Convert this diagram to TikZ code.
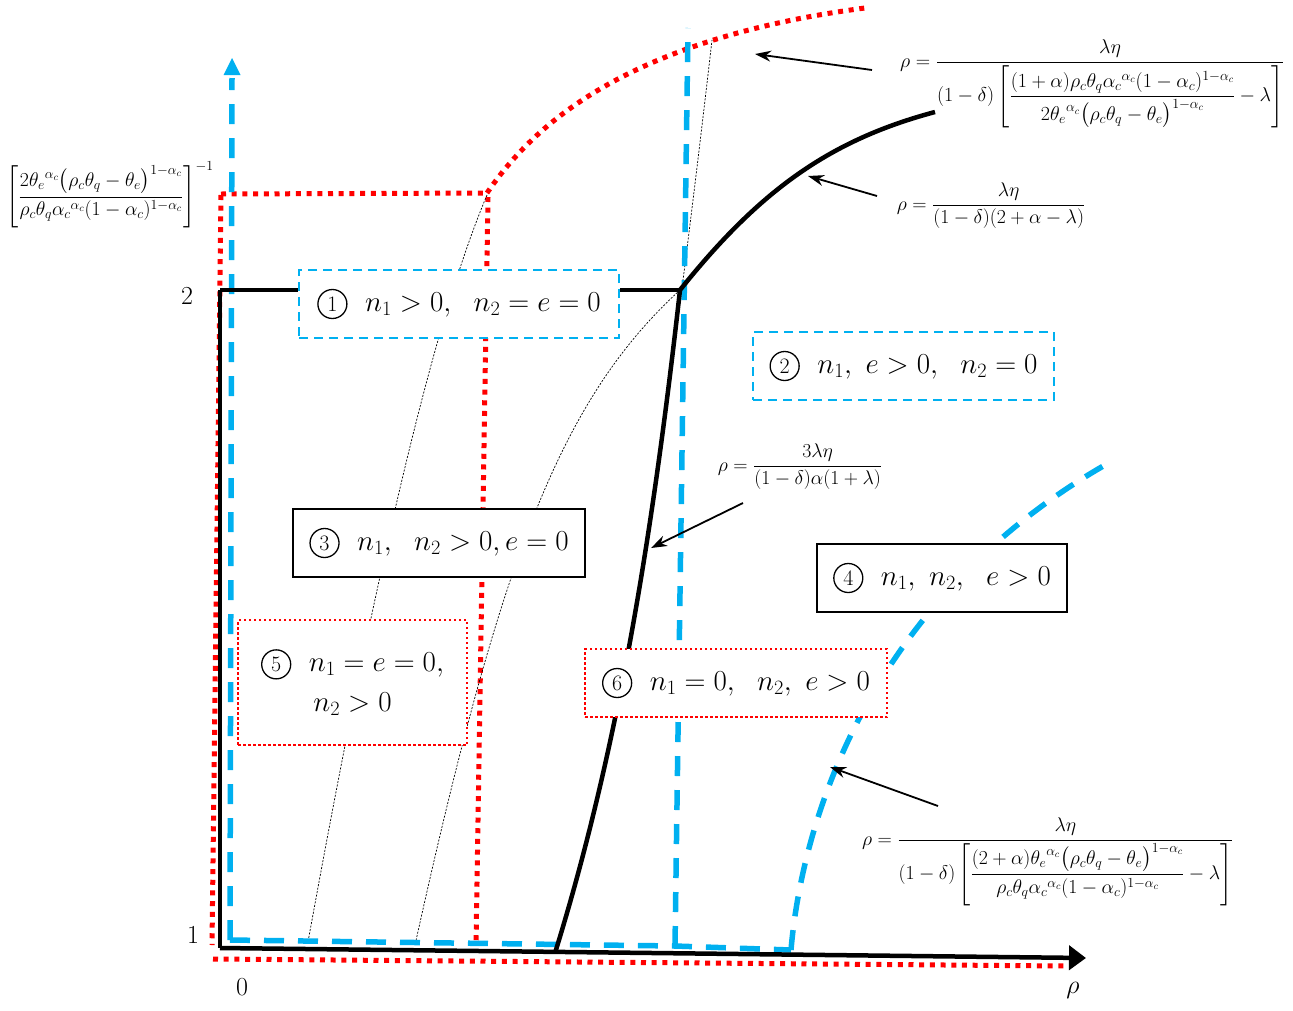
\RequirePackage{fix-cm}
\documentclass[tikz,border=0pt]{standalone}
\usepackage{amsmath}
\usepackage{fontspec}
\usetikzlibrary{arrows.meta}
\definecolor{skyblue}{HTML}{00B0F0}

% circled region number drawn as a thin ring
\newcommand{\regnum}[1]{\tikz[baseline=(rn.base)]\node[circle, draw, line width=1.3pt,
  inner sep=0pt, minimum size=29pt, font=\fontsize{22}{22}\selectfont] (rn) {#1};}

\tikzset{
  axisline/.style={black, line width=4.5pt},
  bluedash/.style={draw=skyblue, line width=5.5pt, dash pattern=on 20pt off 14pt},
  reddot/.style={draw=red, line width=5pt, dash pattern=on 5pt off 5.7pt},
  guide/.style={black, line width=0.7pt, dash pattern=on 2pt off 1.5pt},
  pointer/.style={black, line width=1.8pt, -{Stealth[length=16pt,width=11pt]}},
  region/.style={fill=white, minimum height=68pt, inner sep=0pt, align=center,
    font=\fontsize{29}{40}\selectfont},
  bluebox/.style={region, draw=skyblue, line width=1.8pt, dash pattern=on 9pt off 6pt},
  blackbox/.style={region, draw=black, line width=2.2pt},
  redbox/.style={region, draw=red, line width=2pt, dash pattern=on 2.5pt off 2.5pt},
  formula/.style={font=\fontsize{19.8}{24}\selectfont, inner sep=0pt},
  longformula/.style={font=\fontsize{20}{24}\selectfont, inner sep=0pt},
  ticklabel/.style={font=\fontsize{26}{30}\selectfont, inner sep=0pt}
}

\begin{document}
\begin{tikzpicture}[x=1pt, y=-1pt]
\useasboundingbox (0,0) rectangle (1293,1010);

% ---------- red dotted boundaries ----------
\draw[reddot] (221,195) -- (212,945);
\draw[reddot] (213,959) -- (1068,966);
\draw[reddot] (221,194) -- (487,193);
\draw[reddot] (488,197) -- (476,945);
\draw[reddot] (487,193) .. controls (530,130) and (620,40) .. (865,8);

% ---------- thin guide curves ----------
\draw[guide] (487,195) .. controls (430,330) and (370,600) .. (308,942);
\draw[guide] (680,290) .. controls (560,400) and (500,560) .. (415,945);
\draw[guide] (682,288) .. controls (692,210) and (704,110) .. (712,40);

% ---------- blue dashed boundaries ----------
\coordinate (bo) at (230,940);
\coordinate (bstep) at (675,946);
\coordinate (bfoot) at (791,950);
\draw[bluedash] (bo) -- (bstep) -- (bfoot);
\draw[bluedash] (bstep) -- (688,28);
\draw[bluedash] (bfoot) .. controls (802,820) and (870,600) .. (1105,465);
\draw[bluedash] (bo) -- (232,78);
\fill[skyblue] (232,58) -- (240.5,75) -- (223.5,75) -- cycle;

% ---------- black axes and boundaries ----------
\coordinate (O) at (220,948);
\coordinate (top2) at (220,290);
\coordinate (kink) at (680,290);
\coordinate (xfoot) at (555,953);
\draw[axisline] (top2) -- (O);
\draw[axisline, -{Triangle[length=17pt,width=24pt]}] (O) -- (1086,958);
\draw[axisline] (xfoot) .. controls (617,753) and (652,540) .. (kink);
\draw[axisline] (kink) .. controls (760,190) and (830,140) .. (935,112);

% ---------- region labels ----------
\node[bluebox, minimum width=320pt] (r1) at (459,304)
  {\regnum{1}\ \ $n_1>0,\ \ n_2=e=0$};
\node[bluebox, minimum width=301pt] (r2) at (903.5,366)
  {\regnum{2}\ \ $n_1,\ e>0,\ \ n_2=0$};
\node[blackbox, minimum width=292pt] (r3) at (439,543)
  {\regnum{3}\ \ $n_1,\ \ n_2>0, e=0$};
\node[blackbox, minimum width=250pt] (r4) at (942,578)
  {\regnum{4}\ \ $n_1,\ n_2,\ \ e>0$};
\node[redbox, minimum width=229pt, minimum height=125pt] (r5) at (352.5,682.5)
  {\regnum{5}\ \ $n_1=e=0,$\\ $n_2>0$};
\node[redbox, minimum width=302pt] (r6) at (736,683)
  {\regnum{6}\ \ $n_1=0,\ \ n_2,\ e>0$};

\draw[axisline] (top2) -- (r1.west |- top2);
\draw[axisline] (r1.east |- kink) -- (kink);

% ---------- axis labels ----------
\node[ticklabel] (l2) at (187,296) {2};
\node[ticklabel] (l1) at (193,935) {1};
\node[ticklabel] (l0) at (242,987) {0};
\node[ticklabel] (lrho) at (1073,990) {$\rho$};

% ---------- formulas ----------
\node[longformula, anchor=west] (f1) at (900,84)
  {$\rho=\dfrac{\lambda\eta}{(1-\delta)\left[\dfrac{(1+\alpha)\rho_c\theta_q{\alpha_c}^{\alpha_c}(1-\alpha_c)^{1-\alpha_c}}{2{\theta_e}^{\alpha_c}\bigl(\rho_c\theta_q-\theta_e\bigr)^{1-\alpha_c}}-\lambda\right]}$};
\node[formula] (f2) at (991,206)
  {$\rho=\dfrac{\lambda\eta}{(1-\delta)(2+\alpha-\lambda)}$};
\node[formula] (f3) at (110,195)
  {$\left[\dfrac{2{\theta_e}^{\alpha_c}\bigl(\rho_c\theta_q-\theta_e\bigr)^{1-\alpha_c}}{\rho_c\theta_q{\alpha_c}^{\alpha_c}(1-\alpha_c)^{1-\alpha_c}}\right]^{-1}$};
\node[formula] (f4) at (800,467)
  {$\rho=\dfrac{3\lambda\eta}{(1-\delta)\alpha(1+\lambda)}$};
\node[formula, anchor=west] (f5) at (862,862)
  {$\rho=\dfrac{\lambda\eta}{(1-\delta)\left[\dfrac{(2+\alpha){\theta_e}^{\alpha_c}\bigl(\rho_c\theta_q-\theta_e\bigr)^{1-\alpha_c}}{\rho_c\theta_q{\alpha_c}^{\alpha_c}(1-\alpha_c)^{1-\alpha_c}}-\lambda\right]}$};

% ---------- pointers from formulas to curves ----------
\coordinate (p1s) at (872,70);   \coordinate (p1e) at (755,54);
\coordinate (p2s) at (877,196);  \coordinate (p2e) at (808,176);
\coordinate (p3s) at (743,503);  \coordinate (p3e) at (651,548);
\coordinate (p4s) at (938,806);  \coordinate (p4e) at (830,767);
\draw[pointer] (p1s) -- (p1e);
\draw[pointer] (p2s) -- (p2e);
\draw[pointer] (p3s) -- (p3e);
\draw[pointer] (p4s) -- (p4e);
\end{tikzpicture}
\end{document}
